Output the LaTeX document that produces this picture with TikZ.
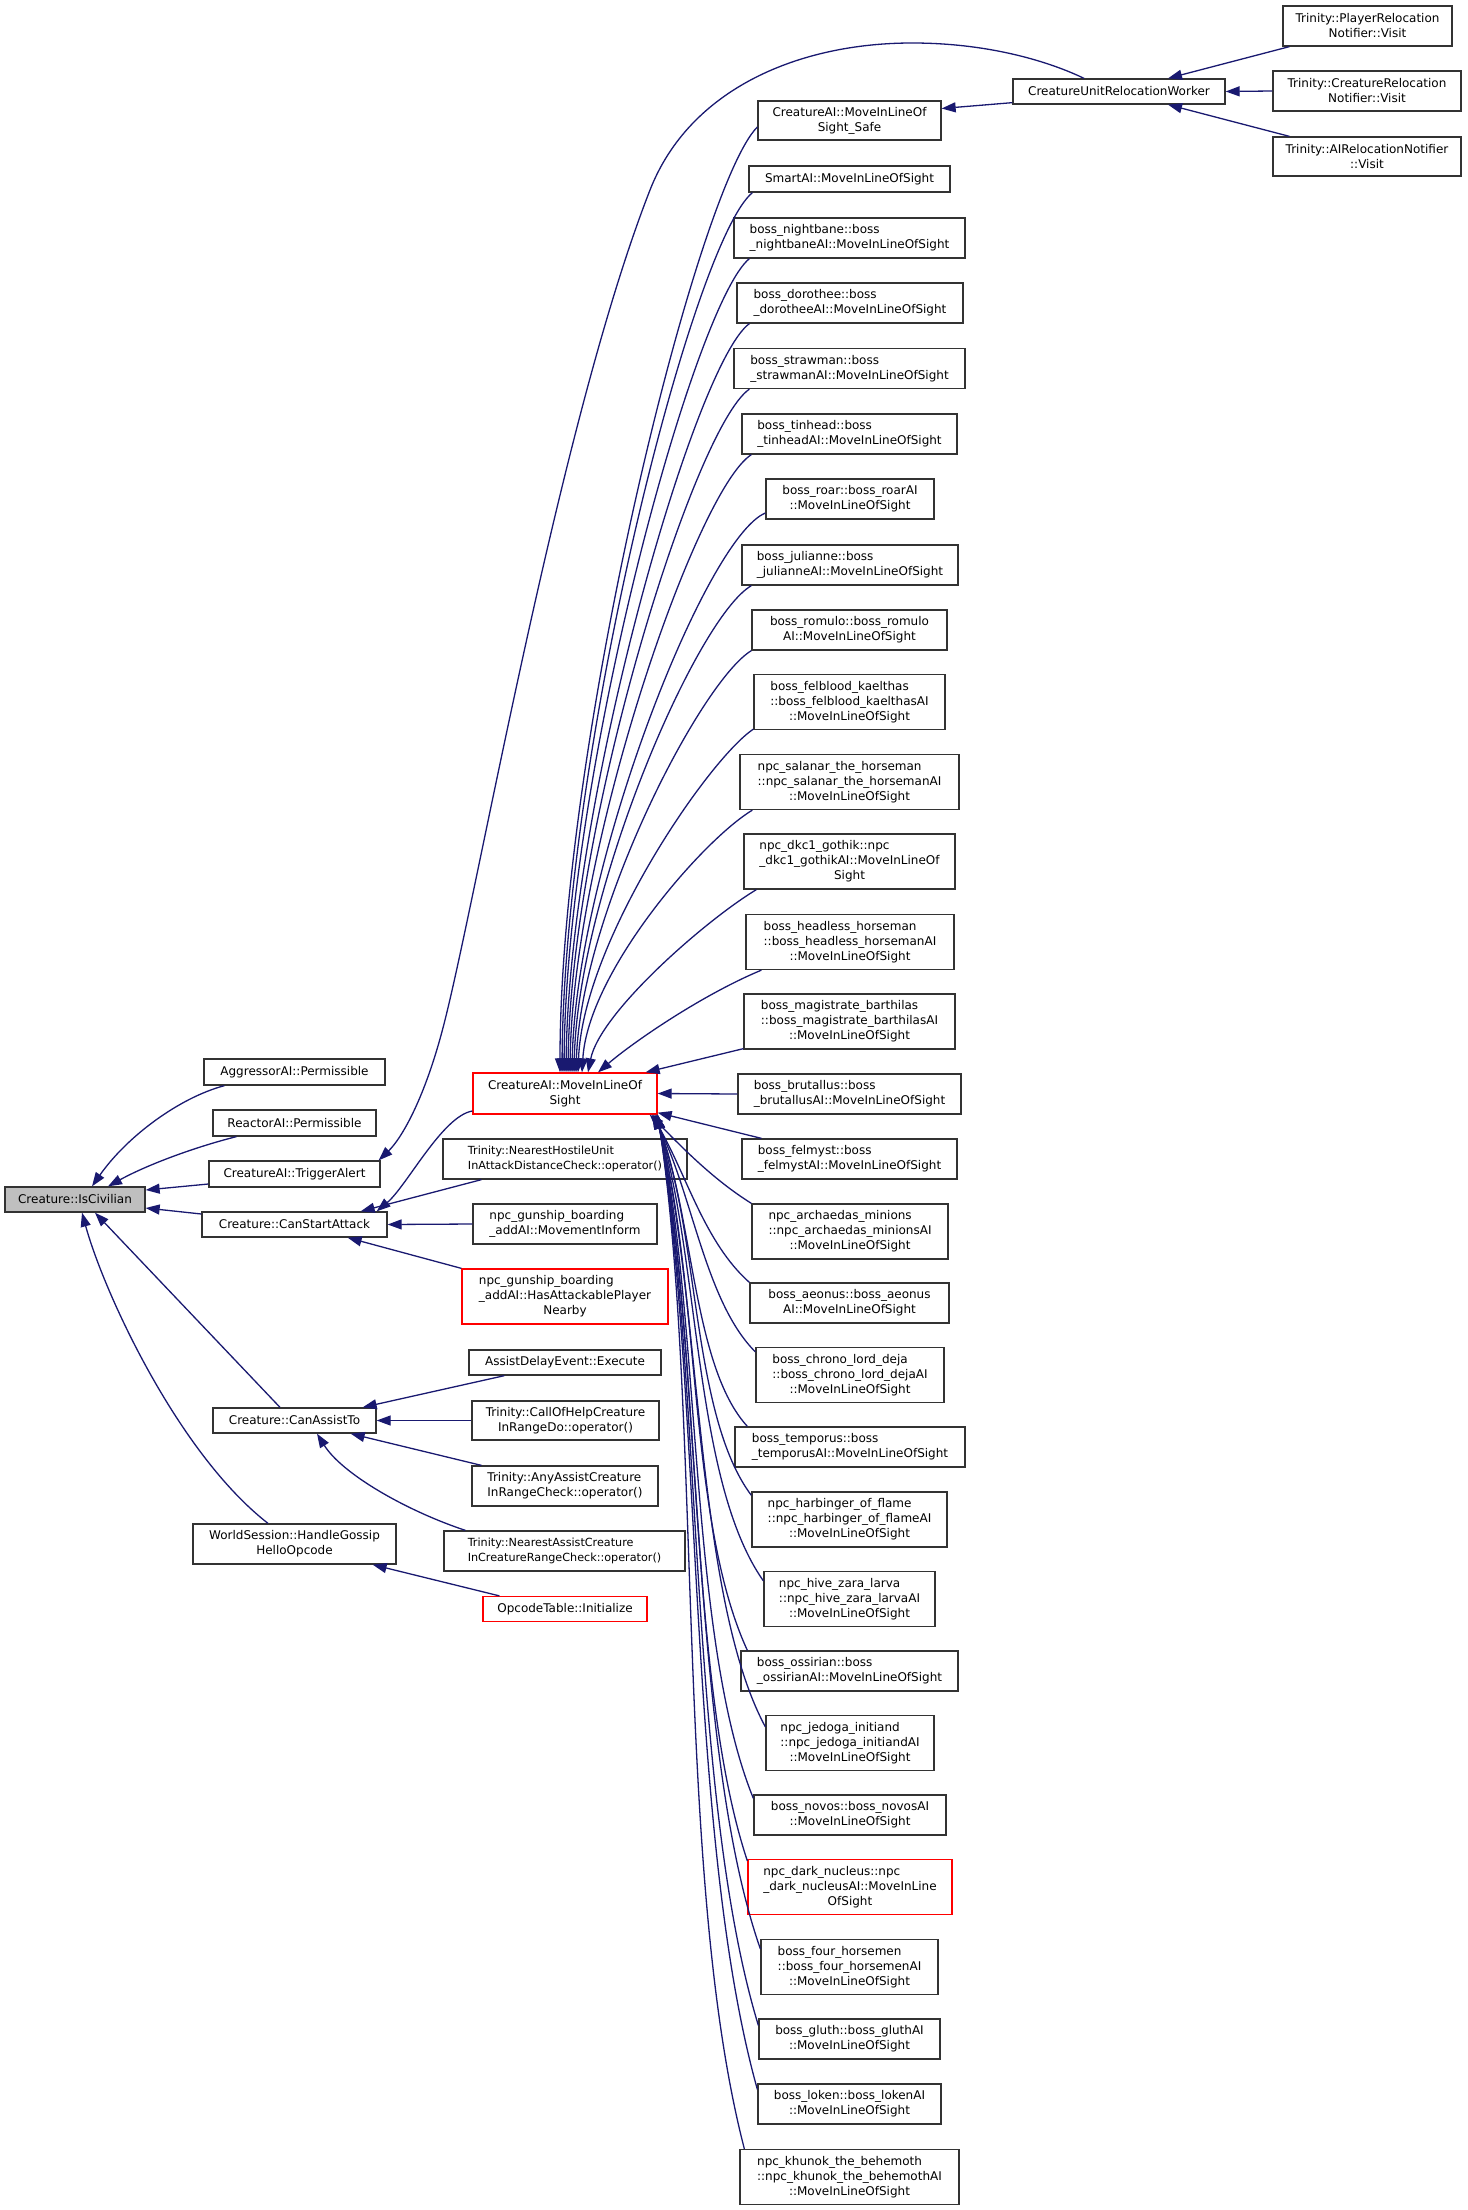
\documentclass[tikz,border=0pt]{standalone}
\usepackage{fontspec}
\setmainfont{DejaVu Sans}
\usepackage{calc}
\usetikzlibrary{arrows.meta,calc}
\definecolor{edgeblue}{HTML}{191970}
\definecolor{civgray}{HTML}{BFBFBF}
% first line flush left under a longer second line
\newcommand{\lline}[2]{\makebox[\widthof{#2}][l]{#1}\\#2}
\tikzset{
  fn/.style={draw=black!80, line width=1.3pt, fill=white, inner sep=0pt, align=center,
    font=\fontsize{12}{15}\selectfont},
  fnred/.style={fn, draw=red},
  fntight/.style={font=\fontsize{11.2}{15}\selectfont},
  wh/.style 2 args={minimum width=#1, minimum height=#2},
  callarrow/.style={draw=edgeblue, line width=1.3pt, arrows={Triangle[length=14pt,width=10pt]-}},
}
\begin{document}
\begin{tikzpicture}[x=1pt,y=-1pt]
\useasboundingbox (0,0) rectangle (1467,2210);

% the function and its direct callers
\node[fn, fill=civgray, wh={140}{25}] (isciv) at (75,1199.5) {Creature::IsCivilian};
\node[fn, wh={181}{26}] (aggr) at (294.5,1072) {AggressorAI::Permissible};
\node[fn, wh={163}{26}] (reactor) at (294.5,1123) {ReactorAI::Permissible};
\node[fn, wh={171}{26}] (trigger) at (294.5,1174) {CreatureAI::TriggerAlert};
\node[fn, wh={185}{25}] (canstart) at (294.5,1224.5) {Creature::CanStartAttack};
\node[fn, wh={163}{25}] (canassist) at (294.5,1420.5) {Creature::CanAssistTo};
\node[fn, wh={203}{40}] (gossip) at (294.5,1544) {WorldSession::HandleGossip\\HelloOpcode};

% second level
\node[fnred, wh={184}{41}] (mil) at (565,1093.5) {CreatureAI::MoveInLineOf\\Sight};
\node[fn, fntight, wh={244}{40}] (hostile) at (565,1159) {\lline{Trinity::NearestHostileUnit}{InAttackDistanceCheck::operator()}};
\node[fn, wh={184}{40}] (moveinform) at (565,1224) {\lline{npc\_gunship\_boarding}{\_addAI::MovementInform}};
\node[fnred, wh={206}{55}] (attackable) at (565,1296.5) {\lline{npc\_gunship\_boarding}{\_addAI::HasAttackablePlayer}\\Nearby};
\node[fn, wh={192}{25}] (assistdelay) at (565,1362.5) {AssistDelayEvent::Execute};
\node[fn, wh={187}{39}] (callofhelp) at (565.5,1420.5) {Trinity::CallOfHelpCreature\\InRangeDo::operator()};
\node[fn, wh={186}{40}] (anyassist) at (565,1486) {\lline{Trinity::AnyAssistCreature}{InRangeCheck::operator()}};
\node[fn, fntight, wh={241}{40}] (nearestassist) at (564.5,1551) {\lline{Trinity::NearestAssistCreature}{InCreatureRangeCheck::operator()}};
\node[fnred, wh={164}{25}] (opcode) at (565,1609) {OpcodeTable::Initialize};

% callers of CreatureAI::MoveInLineOfSight
\node[fn, wh={212}{25}] (curw) at (1119,91.5) {CreatureUnitRelocationWorker};
\node[fn, wh={183}{39}] (safe) at (849.5,120.5) {CreatureAI::MoveInLineOf\\Sight\_Safe};
\node[fn, wh={201}{26}] (smart) at (849.5,179) {SmartAI::MoveInLineOfSight};
\node[fn, wh={231}{40}] (nightbane) at (849.5,238) {\lline{boss\_nightbane::boss}{\_nightbaneAI::MoveInLineOfSight}};
\node[fn, wh={226}{40}] (dorothee) at (850,303) {\lline{boss\_dorothee::boss}{\_dorotheeAI::MoveInLineOfSight}};
\node[fn, wh={231}{40}] (strawman) at (849.5,368.5) {\lline{boss\_strawman::boss}{\_strawmanAI::MoveInLineOfSight}};
\node[fn, wh={215}{40}] (tinhead) at (849.5,434) {\lline{boss\_tinhead::boss}{\_tinheadAI::MoveInLineOfSight}};
\node[fn, wh={168}{40}] (roar) at (850,499) {boss\_roar::boss\_roarAI\\::MoveInLineOfSight};
\node[fn, wh={216}{40}] (julianne) at (850,565) {\lline{boss\_julianne::boss}{\_julianneAI::MoveInLineOfSight}};
\node[fn, wh={195}{40}] (romulo) at (849.5,630) {boss\_romulo::boss\_romulo\\AI::MoveInLineOfSight};
\node[fn, wh={191}{55}] (felblood) at (849.5,702) {\lline{boss\_felblood\_kaelthas}{::boss\_felblood\_kaelthasAI}\\::MoveInLineOfSight};
\node[fn, wh={219}{55}] (salanar) at (849.5,782) {\lline{npc\_salanar\_the\_horseman}{::npc\_salanar\_the\_horsemanAI}\\::MoveInLineOfSight};
\node[fn, wh={211}{55}] (dkc1) at (849.5,861.5) {\lline{npc\_dkc1\_gothik::npc}{\_dkc1\_gothikAI::MoveInLineOf}\\Sight};
\node[fn, wh={208}{55}] (headless) at (850,942) {\lline{boss\_headless\_horseman}{::boss\_headless\_horsemanAI}\\::MoveInLineOfSight};
\node[fn, wh={211}{55}] (magistrate) at (849.5,1021.5) {\lline{boss\_magistrate\_barthilas}{::boss\_magistrate\_barthilasAI}\\::MoveInLineOfSight};
\node[fn, wh={223}{40}] (brutallus) at (849.5,1094) {\lline{boss\_brutallus::boss}{\_brutallusAI::MoveInLineOfSight}};
\node[fn, wh={215}{40}] (felmyst) at (849.5,1159) {\lline{boss\_felmyst::boss}{\_felmystAI::MoveInLineOfSight}};
\node[fn, wh={196}{55}] (archaedas) at (850,1231.5) {\lline{npc\_archaedas\_minions}{::npc\_archaedas\_minionsAI}\\::MoveInLineOfSight};
\node[fn, wh={199}{40}] (aeonus) at (849.5,1303) {boss\_aeonus::boss\_aeonus\\AI::MoveInLineOfSight};
\node[fn, wh={188}{55}] (chrono) at (850,1375) {\lline{boss\_chrono\_lord\_deja}{::boss\_chrono\_lord\_dejaAI}\\::MoveInLineOfSight};
\node[fn, wh={230}{40}] (temporus) at (850,1447) {\lline{boss\_temporus::boss}{\_temporusAI::MoveInLineOfSight}};
\node[fn, wh={195}{55}] (harbinger) at (849.5,1519.5) {\lline{npc\_harbinger\_of\_flame}{::npc\_harbinger\_of\_flameAI}\\::MoveInLineOfSight};
\node[fn, wh={171}{55}] (hive) at (849.5,1599) {\lline{npc\_hive\_zara\_larva}{::npc\_hive\_zara\_larvaAI}\\::MoveInLineOfSight};
\node[fn, wh={217}{40}] (ossirian) at (849.5,1671) {\lline{boss\_ossirian::boss}{\_ossirianAI::MoveInLineOfSight}};
\node[fn, wh={168}{55}] (jedoga) at (850,1743) {\lline{npc\_jedoga\_initiand}{::npc\_jedoga\_initiandAI}\\::MoveInLineOfSight};
\node[fn, wh={192}{40}] (novos) at (850,1815) {boss\_novos::boss\_novosAI\\::MoveInLineOfSight};
\node[fnred, wh={204}{55}] (nucleus) at (850,1887) {\lline{npc\_dark\_nucleus::npc}{\_dark\_nucleusAI::MoveInLine}\\OfSight};
\node[fn, wh={177}{55}] (horsemen) at (849.5,1967) {\lline{boss\_four\_horsemen}{::boss\_four\_horsemenAI}\\::MoveInLineOfSight};
\node[fn, wh={181}{40}] (gluth) at (849.5,2039) {boss\_gluth::boss\_gluthAI\\::MoveInLineOfSight};
\node[fn, wh={183}{40}] (loken) at (849.5,2104) {boss\_loken::boss\_lokenAI\\::MoveInLineOfSight};
\node[fn, wh={219}{55}] (khunok) at (849.5,2177) {\lline{npc\_khunok\_the\_behemoth}{::npc\_khunok\_the\_behemothAI}\\::MoveInLineOfSight};

% callers of CreatureUnitRelocationWorker
\node[fn, wh={169}{40}] (player) at (1367.5,26) {Trinity::PlayerRelocation\\Notifier::Visit};
\node[fn, wh={188}{40}] (creaturerel) at (1367,91) {Trinity::CreatureRelocation\\Notifier::Visit};
\node[fn, wh={188}{39}] (airel) at (1367,156.5) {Trinity::AIRelocationNotifier\\::Visit};

% edges into Creature::IsCivilian
\draw[callarrow] ($(isciv.north)+(17,0)$) .. controls +(35,-50) and +(-45,12) .. ($(aggr.south west)+(21,0)$);
\draw[callarrow] ($(isciv.north)+(33,0)$) .. controls +(40,-22) and +(-40,10) .. ($(reactor.south west)+(24,0)$);
\draw[callarrow] ($(isciv.east)+(0,-9.5)$) -- ($(trigger.west)+(0,10)$);
\draw[callarrow] ($(isciv.east)+(0,8.5)$) -- ($(canstart.west)+(0,-10.5)$);
\draw[callarrow] ($(isciv.south)+(20,0)$) -- ($(canassist.north)+(-14.5,0)$);
\draw[callarrow] ($(isciv.south)+(7,0)$) .. controls +(22,80) and +(-90,-70) .. ($(gossip.north)+(-26.5,0)$);

% edges into the second level
\draw[callarrow] ($(trigger.north east)+(-2,0)$) .. controls +(22,-21) and (425,1100) .. (445,1020)
  .. controls (480,880) and (560,420) .. (650,190) .. controls (690,88) and (800,43) .. (912,43)
  .. controls (990,43) and (1050,62) .. ($(curw.north)+(-35,0)$);
\draw[callarrow] ($(canstart.north east)+(-11,0)$) .. controls +(30,-25) and +(-30,5) .. ($(mil.west)+(0,17.5)$);
\draw[callarrow] ($(canstart.north east)+(-27,0)$) -- ($(hostile.south west)+(39,0)$);
\draw[callarrow] (canstart.east) -- (moveinform.west);
\draw[callarrow] ($(canstart.south east)+(-40,0)$) -- (attackable.north west);
\draw[callarrow] ($(canassist.north east)+(-14,0)$) -- ($(assistdelay.south west)+(36,0)$);
\draw[callarrow] (canassist.east) -- (callofhelp.west);
\draw[callarrow] ($(canassist.south east)+(-26,0)$) -- ($(anyassist.north west)+(10,0)$);
\draw[callarrow] ($(canassist.south)+(22.5,0)$) .. controls +(25,40) and +(-60,-20) .. ($(nearestassist.north west)+(22,0)$);
\draw[callarrow] ($(gossip.south east)+(-24,0)$) -- ($(opcode.north west)+(17,0)$);

% edges into CreatureUnitRelocationWorker and the safe variant
\draw[callarrow] ($(curw.north)+(49,0)$) -- ($(player.south west)+(7,0)$);
\draw[callarrow] (curw.east) -- (creaturerel.west);
\draw[callarrow] ($(curw.south)+(49,0)$) -- ($(airel.north west)+(17,0)$);
\draw[callarrow] ($(safe.east)+(0,-12)$) -- ($(curw.south west)+(0,-2)$);

% edges into CreatureAI::MoveInLineOfSight from above
\draw[callarrow] ($(mil.north)+(-5,0)$) .. controls +(0,-330) and +(-60,60) .. ($(safe.west)+(0,6.5)$);
\draw[callarrow] ($(mil.north)+(-3,0)$) .. controls +(2,-320) and +(-60,50) .. ($(smart.south west)+(4,0)$);
\draw[callarrow] ($(mil.north)+(-1,0)$) .. controls +(2,-300) and +(-55,45) .. ($(nightbane.south west)+(16,0)$);
\draw[callarrow] ($(mil.north)+(1,0)$) .. controls +(3,-270) and +(-55,40) .. ($(dorothee.south west)+(13,0)$);
\draw[callarrow] ($(mil.north)+(3,0)$) .. controls +(3,-250) and +(-55,38) .. ($(strawman.south west)+(16,0)$);
\draw[callarrow] ($(mil.north)+(5,0)$) .. controls +(3,-225) and +(-55,35) .. ($(tinhead.south west)+(10,0)$);
\draw[callarrow] ($(mil.north)+(7,0)$) .. controls +(4,-205) and +(-60,25) .. ($(roar.west)+(0,14)$);
\draw[callarrow] ($(mil.north)+(9,0)$) .. controls +(4,-180) and +(-55,32) .. ($(julianne.south west)+(10,0)$);
\draw[callarrow] ($(mil.north)+(11,0)$) .. controls +(5,-160) and +(-50,30) .. (romulo.south west);
\draw[callarrow] ($(mil.north)+(13,0)$) .. controls +(5,-130) and +(-45,30) .. ($(felblood.south west)+(0,-1)$);
\draw[callarrow] ($(mil.north)+(17,0)$) .. controls +(6,-100) and +(-50,30) .. ($(salanar.south west)+(13,0)$);
\draw[callarrow] ($(mil.north)+(23,0)$) .. controls +(12,-60) and +(-50,30) .. ($(dkc1.south west)+(13,0)$);
\draw[callarrow] ($(mil.north)+(33,0)$) .. controls +(35,-30) and +(-60,25) .. ($(headless.south west)+(16,0)$);
\draw[callarrow] ($(mil.north east)+(-12,0)$) -- ($(magistrate.south west)+(0,-1)$);
\draw[callarrow] (mil.east) -- (brutallus.west);
\draw[callarrow] ($(mil.south east)+(0,-2)$) -- ($(felmyst.north west)+(20,0)$);

% edges into CreatureAI::MoveInLineOfSight from below
\draw[callarrow] ($(mil.south east)+(-8,0)$) .. controls +(30,30) and +(-40,-25) .. (archaedas.north west);
\draw[callarrow] ($(mil.south east)+(-6,0)$) .. controls +(35,60) and +(-45,-40) .. (aeonus.north west);
\draw[callarrow] ($(mil.south east)+(-5,0)$) .. controls +(40,80) and +(-50,-50) .. ($(chrono.north west)+(0,5)$);
\draw[callarrow] ($(mil.south east)+(-4,0)$) .. controls +(40,100) and +(-55,-60) .. ($(temporus.north west)+(13,0)$);
\draw[callarrow] ($(mil.south east)+(-3,0)$) .. controls +(45,120) and +(-60,-80) .. ($(harbinger.north west)+(0,4)$);
\draw[callarrow] ($(mil.south east)+(-2,0)$) .. controls +(45,150) and +(-70,-100) .. ($(hive.north west)+(0,10)$);
\draw[callarrow] ($(mil.south east)+(-2,0)$) .. controls +(45,170) and +(-60,-130) .. ($(ossirian.north west)+(7,0)$);
\draw[callarrow] ($(mil.south east)+(-1,0)$) .. controls +(45,190) and +(-70,-130) .. ($(jedoga.north west)+(0,12)$);
\draw[callarrow] ($(mil.south east)+(-1,0)$) .. controls +(45,210) and +(-65,-160) .. ($(novos.north west)+(0,4)$);
\draw[callarrow] ($(mil.south east)+(-1,0)$) .. controls +(45,230) and +(-60,-180) .. ($(nucleus.north west)+(0,2)$);
\draw[callarrow] ($(mil.south east)+(0,0)$) .. controls +(45,250) and +(-70,-200) .. ($(horsemen.north west)+(0,10)$);
\draw[callarrow] ($(mil.south east)+(0,0)$) .. controls +(45,270) and +(-70,-230) .. ($(gluth.north west)+(0,7)$);
\draw[callarrow] ($(mil.south east)+(0,0)$) .. controls +(45,290) and +(-70,-250) .. ($(loken.north west)+(0,6)$);
\draw[callarrow] ($(mil.south east)+(0,0)$) .. controls +(45,300) and +(-70,-270) .. ($(khunok.north west)+(5,0)$);
\end{tikzpicture}
\end{document}
